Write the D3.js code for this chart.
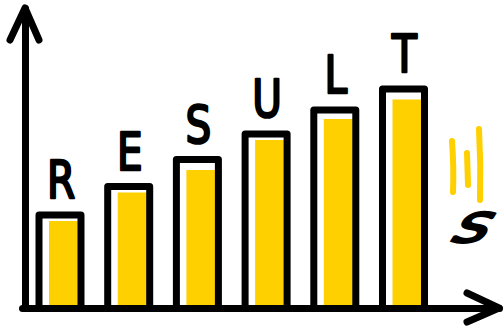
<!DOCTYPE html>
<html><head><meta charset="utf-8">
<script src="https://cdn.jsdelivr.net/npm/d3@7"></script>
<style>html,body{margin:0;padding:0;background:#fff;overflow:hidden}</style>
</head><body><svg id="c" width="504" height="329"></svg>
<script>
// ---- data ----
const letters = ["R", "E", "S", "U", "L", "T"];
const frameValues = [31, 40.5, 49.5, 58, 66, 73];
const fillValues = [29, 38.5, 46, 56, 63, 69.5];
const trailingLetter = "S";

// ---- layout ----
const YELLOW = "#FFD000";
const INK = "#000";
const svg = d3.select("#c");
svg.append("rect").attr("width", 504).attr("height", 329).attr("fill", "#fff");

const x = d3.scalePoint().domain(d3.range(letters.length)).range([60, 403.5]);
const y = d3.scaleLinear().domain([0, 100]).range([308, 8]);
const xLine = d3.scaleLinear().domain([0, 1]).range([22, 499]);

const rows = letters.map((l, i) => ({ l, i, frame: frameValues[i], fill: fillValues[i] }));

// yellow fills
svg.append("g").selectAll("rect").data(rows).join("rect")
  .attr("x", d => x(d.i) - 11)
  .attr("width", 30)
  .attr("y", d => y(d.fill))
  .attr("height", d => y(0) - y(d.fill))
  .attr("fill", YELLOW);

// frames
svg.append("g").selectAll("path").data(rows).join("path")
  .attr("d", d => {
    const l = x(d.i) - 21, r = x(d.i) + 21, t = y(d.frame), b = y(0);
    return `M${l},${b}L${l},${t}L${r},${t}L${r},${b}`;
  })
  .attr("fill", "none").attr("stroke", INK).attr("stroke-width", 7)
  .attr("stroke-linejoin", "round").attr("stroke-linecap", "round");

// letters
svg.append("g").selectAll("text").data(rows).join("text")
  .attr("transform", d => `translate(${x(d.i) + 1},${y(d.frame) - 17}) scale(0.78,1)`)
  .attr("text-anchor", "middle")
  .attr("font-family", "DejaVu Sans")
  .attr("font-size", 52)
  .attr("fill", INK).attr("stroke", INK).attr("stroke-width", 2.6)
  .attr("stroke-linejoin", "round")
  .text(d => d.l);

// y axis
const gy = svg.append("g").attr("transform", "translate(25,0)")
  .call(d3.axisLeft(y).tickValues([]).tickSizeOuter(0));
gy.select(".domain").attr("stroke", INK).attr("stroke-width", 7).attr("stroke-linecap", "round");
svg.append("path")
  .attr("d", `M10,${y(100) + 32}L25,${y(100)}L39,${y(100) + 32}`)
  .attr("fill", "none").attr("stroke", INK).attr("stroke-width", 7)
  .attr("stroke-linejoin", "round").attr("stroke-linecap", "round");

// x axis
const gx = svg.append("g").attr("transform", `translate(0,${y(0)})`)
  .call(d3.axisBottom(xLine).tickValues([]).tickSizeOuter(0));
gx.select(".domain").attr("stroke", INK).attr("stroke-width", 7).attr("stroke-linecap", "round");
svg.append("path")
  .attr("d", `M467,${y(0) - 15}L${xLine(1)},${y(0)}L467,${y(0) + 14}`)
  .attr("fill", "none").attr("stroke", INK).attr("stroke-width", 7)
  .attr("stroke-linejoin", "round").attr("stroke-linecap", "round");

// motion strokes
const strokes = ["M452,141Q454,168 453,192", "M467,153L468,185", "M479,129Q481,165 480,200"];
svg.append("g").selectAll("path").data(strokes).join("path")
  .attr("d", d => d).attr("fill", "none").attr("stroke", YELLOW)
  .attr("stroke-width", 6).attr("stroke-linecap", "round");

// trailing letter
svg.append("text")
  .attr("transform", "translate(465,242) skewX(-32) scale(1.15,0.85)")
  .attr("text-anchor", "middle")
  .attr("font-family", "DejaVu Sans")
  .attr("font-size", 47)
  .attr("fill", INK).attr("stroke", INK).attr("stroke-width", 3.5)
  .attr("stroke-linejoin", "round")
  .text(trailingLetter);
</script></body></html>
